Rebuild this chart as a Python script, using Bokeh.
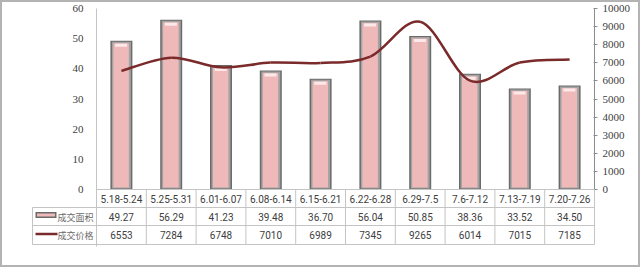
import numpy as np
from bokeh.plotting import figure
from bokeh.models import Range1d, LinearAxis, FixedTicker
from bokeh.layouts import column
from bokeh.embed import file_html
from bokeh.resources import INLINE
from bokeh.core.properties import value

# ---------------- data ----------------
categories = ["5.18-5.24", "5.25-5.31", "6.01-6.07", "6.08-6.14", "6.15-6.21",
              "6.22-6.28", "6.29-7.5", "7.6-7.12", "7.13-7.19", "7.20-7.26"]
area = [49.27, 56.29, 41.23, 39.48, 36.70, 56.04, 50.85, 38.36, 33.52, 34.50]
area_labels = ["49.27", "56.29", "41.23", "39.48", "36.70", "56.04", "50.85", "38.36", "33.52", "34.50"]
price = [6553, 7284, 6748, 7010, 6989, 7345, 9265, 6014, 7015, 7185]
price_labels = ["6553", "7284", "6748", "7010", "6989", "7345", "9265", "6014", "7015", "7185"]
area_ticks = [0, 10, 20, 30, 40, 50, 60]
price_ticks = [0, 1000, 2000, 3000, 4000, 5000, 6000, 7000, 8000, 9000, 10000]
series_names = ["成交面积", "成交价格"]

# ---------------- layout constants (image pixels) ----------------
BORDER = 2
W, H = 640, 267
FRAME_L, FRAME_R, FRAME_T, ZERO_Y, FRAME_B = 96, 594, 8, 189, 246
n = len(categories)
PX_CAT = (FRAME_R - FRAME_L) / n
PX_UNIT = (ZERO_Y - FRAME_T) / area_ticks[-1]
PRICE_PER_AREA = price_ticks[-1] / area_ticks[-1]

BAR_FILL = "#efb9b9"
BAR_EDGE = "#6b6b6b"
LINE_COL = "#7a2a2a"
GRID_COL = "#c4c4c4"
AXIS_COL = "#8c8c8c"
TXT_COL = "#404040"


def tx(img_x):
    return (img_x - FRAME_L) / PX_CAT


def ty(img_y):
    return (ZERO_Y - img_y) / PX_UNIT


def px(v):
    return v / PX_UNIT


x = np.arange(n) + 0.5
a = np.array(area, dtype=float)
pr = np.array(price, dtype=float)

CW, CH = W - 2 * BORDER, H - 2 * BORDER
ybot = ty(FRAME_B)
p = figure(width=CW, height=CH, output_backend="svg", toolbar_location=None,
           x_range=Range1d(0, n), y_range=Range1d(ybot, area_ticks[-1]),
           x_axis_location=None,
           min_border_left=FRAME_L - BORDER, min_border_right=CW - (FRAME_R - BORDER),
           min_border_top=FRAME_T - BORDER, min_border_bottom=CH - (FRAME_B - BORDER))
p.extra_y_ranges = {"price": Range1d(ybot * PRICE_PER_AREA, price_ticks[-1])}
p.xgrid.visible = False
p.ygrid.visible = False
p.outline_line_color = None
p.background_fill_color = "white"
p.border_fill_color = "white"

ya = p.yaxis[0]
ya.ticker = FixedTicker(ticks=area_ticks)
ya.axis_line_color = GRID_COL
ya.major_tick_line_color = None
ya.minor_tick_line_color = None
ya.major_label_standoff = 7
ya.major_label_text_font = "Liberation Serif"
ya.major_label_text_font_size = "11px"
ya.major_label_text_color = TXT_COL

yr = LinearAxis(y_range_name="price", ticker=FixedTicker(ticks=price_ticks))
yr.axis_line_color = None
yr.major_tick_line_color = AXIS_COL
yr.major_tick_out = 3
yr.major_tick_in = 1
yr.minor_tick_line_color = None
yr.major_label_standoff = 5
yr.major_label_text_font = "Liberation Serif"
yr.major_label_text_font_size = "11px"
yr.major_label_text_color = TXT_COL
p.add_layout(yr, "right")

# bars (layered to imitate the bevelled look)
p.vbar(x=x, top=a, bottom=0, width=22 / PX_CAT, fill_color=BAR_EDGE, line_color=None)
p.vbar(x=x, top=a - px(1), bottom=px(1), width=19 / PX_CAT, fill_color="#a3a3a3", line_color=None)
p.vbar(x=x - 0.3 / PX_CAT, top=a - px(2.5), bottom=px(2), width=15.5 / PX_CAT,
       fill_color=BAR_FILL, line_color=None)
p.vbar(x=x - 0.3 / PX_CAT, top=a - px(3), bottom=a - px(6), width=12 / PX_CAT,
       fill_color="#fde9e9", line_color=None)

# smoothed price line (Catmull-Rom -> cubic Bezier)
xp = np.concatenate([[x[0]], x, [x[-1]]])
yp = np.concatenate([[pr[0]], pr, [pr[-1]]])
i = np.arange(1, n)
cx0 = xp[i] + (xp[i + 1] - xp[i - 1]) / 6
cy0 = yp[i] + (yp[i + 1] - yp[i - 1]) / 6
cx1 = xp[i + 1] - (xp[i + 2] - xp[i]) / 6
cy1 = yp[i + 1] - (yp[i + 2] - yp[i]) / 6
p.bezier(x0=xp[i], y0=yp[i], x1=xp[i + 1], y1=yp[i + 1],
         cx0=cx0, cy0=cy0, cx1=cx1, cy1=cy1,
         line_color=LINE_COL, line_width=2.5, y_range_name="price")

# ---------------- data table (drawn on the overlay level) ----------------
OV = "overlay"
# baseline / top of category row
p.segment(x0=[0], y0=[0], x1=[n], y1=[0], line_color=GRID_COL, line_width=1, level=OV)
# right axis line (upper part) and table border
p.segment(x0=[n], y0=[0], x1=[n], y1=[price_ticks[-1]], line_color=AXIS_COL, line_width=1,
          y_range_name="price", level=OV)
row_lines = [207, 225, 244]
p.segment(x0=[tx(32)] * 3, y0=[ty(r) for r in row_lines], x1=[n] * 3,
          y1=[ty(r) for r in row_lines], line_color=GRID_COL, line_width=1, level=OV)
vx = list(range(1, n + 1))
p.segment(x0=vx, y0=[0] * n, x1=vx, y1=[ty(244)] * n,
          line_color=GRID_COL, line_width=1, level=OV)
p.segment(x0=[tx(32)], y0=[ty(207)], x1=[tx(32)], y1=[ty(244)], line_color=GRID_COL,
          line_width=1, level=OV)

tfont = value("Roboto")
p.text(x=x, y=[ty(198.5)] * n, text=categories, text_align="center", text_baseline="middle",
       text_font=tfont, text_font_size="10px", text_color=TXT_COL, level=OV)
p.text(x=x, y=[ty(216.5)] * n, text=area_labels, text_align="center", text_baseline="middle",
       text_font=tfont, text_font_size="10px", text_color=TXT_COL, level=OV)
p.text(x=x, y=[ty(234.5)] * n, text=price_labels, text_align="center", text_baseline="middle",
       text_font=tfont, text_font_size="10px", text_color=TXT_COL, level=OV)

# legend cells
p.quad(left=[tx(35)], right=[tx(56)], top=[ty(211.5)], bottom=[ty(217.5)],
       fill_color=BAR_EDGE, line_color=None, level=OV)
p.quad(left=[tx(36.5)], right=[tx(54.5)], top=[ty(213)], bottom=[ty(216)],
       fill_color=BAR_FILL, line_color=None, level=OV)
p.segment(x0=[tx(35)], y0=[ty(233.5)], x1=[tx(57)], y1=[ty(233.5)],
          line_color=LINE_COL, line_width=2.5, level=OV)
p.text(x=[tx(57)] * 2, y=[ty(216.5), ty(234.5)], text=series_names,
       text_align="left", text_baseline="middle", text_font=value("Noto Sans CJK SC"),
       text_font_size="9px", text_color="#6a6a6a", level=OV)

layout = column(p, spacing=0,
                styles={"border": f"{BORDER}px solid #b3b3b3", "background-color": "white"})

open("out.html", "w").write(file_html(layout, INLINE))
